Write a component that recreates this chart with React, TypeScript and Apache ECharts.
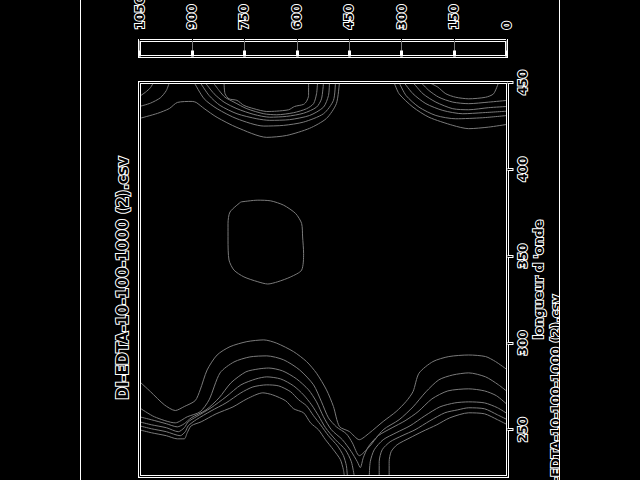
import { useEffect, useRef } from 'react';
import * as echarts from 'echarts';

type Pt = [number, number];

// ---- data (hidden horizontal value, wavelength) ----
const levels = [150, 300, 450, 600, 750, 900];
const wavelengthTicks = [250, 300, 350, 400, 450];
const wavelengthRange = [223, 450];
const hiddenAxisRange = [200, 570];
const colorbarMax = 1050;
const colorbarStep = 150;
const titleText = 'DI-EDTA-10-100-1000 (2).csv';
const axisName = "longueur d 'onde";

const topLeft450: Pt[] = [[570, 442], [564, 444.4], [559, 447], [556, 450]];
const topLeft300: Pt[] = [[570, 436.2], [559, 438.1], [549, 441.2], [543, 445.4], [540, 450]];
const top150: Pt[] = [[570, 429.3], [552, 432.2], [540, 435], [532, 438.5], [517, 439.1], [513, 438.5], [505, 435], [492, 429.9], [472, 424.1], [442, 418.4], [422, 419.5], [399, 423.6], [382, 429.3], [372, 437.9], [369, 450]];
const topMid300: Pt[] = [[515, 450], [505, 440.6], [492, 434.9], [472, 429.1], [445, 424.9], [425, 425.3], [405, 427.2], [385, 432], [375, 439.7], [373, 450]];
const topMid450: Pt[] = [[509, 450], [500, 442.5], [489, 436.8], [472, 432], [452, 429.1], [439, 428.2], [419, 428.6], [399, 431], [385, 435.8], [380, 442.5], [379, 450]];
const topMid600: Pt[] = [[504, 450], [495, 443.5], [485, 438.7], [472, 434.9], [455, 431.6], [439, 430], [422, 430.5], [405, 432.3], [392, 435.8], [387, 440.6], [385, 450]];
const topMid750: Pt[] = [[496, 450], [490, 445.4], [484, 441.5], [475, 438.7], [462, 434.9], [445, 432], [432, 431.4], [415, 432.6], [402, 434.9], [395, 437.8], [392, 443.5], [391, 450]];
const topMid900: Pt[] = [[485, 450], [484, 443.5], [480, 440.6], [472, 439.7], [465, 436.8], [455, 434.9], [442, 433.3], [432, 433.5], [420, 434.3], [414, 436.2], [405, 437.4], [402, 439.2], [400, 442.5], [400, 450]];
const topRight150: Pt[] = [[314, 450], [309, 443.5], [295, 435.8], [279, 430], [255, 425.3], [239, 423.4], [219, 424.3], [200, 425.9]];
const topRight300: Pt[] = [[309, 450], [302, 442.5], [289, 435.8], [272, 431], [252, 429.1], [225, 429.7], [200, 431]];
const topRight450: Pt[] = [[304, 450], [295, 443.5], [282, 437.8], [265, 433.9], [245, 432], [225, 432.6], [200, 433.5]];
const topRight600: Pt[] = [[295, 450], [285, 443.5], [272, 438.7], [255, 434.9], [239, 434.3], [219, 435.5], [200, 436.2]];
const topRight750: Pt[] = [[287, 450], [279, 445.4], [269, 441.5], [255, 438.7], [239, 437.8], [219, 438.7], [200, 439.7]];
const topRight900: Pt[] = [[279, 450], [270, 447.3], [262, 443.5], [252, 441.5], [239, 440.6], [222, 441.5], [214, 443.5], [209, 450]];
const island150: Pt[] = [[468, 381.2], [451, 382.2], [438, 381.8], [425, 379.3], [413, 374.5], [407, 368.8], [406, 361], [405, 351.5], [407, 341.9], [418, 338], [431, 335.2], [441, 333.9], [451, 335.2], [465, 338], [475, 341.9], [480, 347.7], [481, 359.2], [481, 368.8], [479, 375.4], [468, 381.2]];
const bottom150: Pt[] = [[570, 277.7], [559, 271.9], [545, 264.3], [534, 261], [525, 263.3], [514, 266.7], [509, 272.9], [502, 284.4], [492, 293], [479, 297.8], [462, 300.7], [445, 301.7], [432, 299.8], [415, 294.9], [402, 289.2], [392, 282.5], [382, 272.9], [375, 263.3], [369, 251.8], [359, 248.9], [349, 244.2], [339, 248], [325, 254.7], [312, 260.4], [302, 266.2], [295, 271.9], [289, 282.5], [275, 289.2], [259, 292.1], [239, 293], [222, 292.1], [212, 289.2], [200, 284.4]];
const bottom300: Pt[] = [[570, 262.6], [555, 257.4], [534, 253.9], [522, 257.4], [509, 260.3], [500, 267.2], [489, 282.7], [475, 289], [459, 291.9], [442, 292.5], [425, 290.2], [409, 284.4], [395, 275.8], [387, 266], [380, 256.8], [372, 251.6], [362, 247.6], [356, 242.4], [349, 235], [339, 240.1], [325, 249.9], [309, 255.7], [295, 263.1], [282, 271.8], [269, 278.7], [255, 281.5], [239, 282.7], [222, 280.4], [209, 275.8], [200, 271.8]];
const bottom450: Pt[] = [[570, 257.4], [558, 255.7], [543, 253.4], [532, 251.6], [525, 253.4], [518, 256.8], [503, 261.4], [490, 268.3], [478, 277], [463, 283.3], [450, 285], [440, 285.5], [426, 283.8], [412, 279.2], [400, 272.9], [392, 266], [385, 257.4], [377, 249.9], [366, 244.2], [357, 237.3], [351, 231.5], [348, 228.1], [345, 233.8], [340, 240.1], [330, 246.5], [316, 251.1], [303, 255.1], [290, 260.3], [276, 267.7], [260, 272.3], [239, 273.5], [223, 272.3], [211, 269.5], [200, 264.3]];
const bottom600Left: Pt[] = [[570, 254.5], [558, 252.8], [543, 251.1], [531, 248.8], [525, 251.1], [521, 254.5], [513, 257.4], [498, 262.6], [483, 268.9], [468, 275.8], [453, 279.2], [442, 280.4], [428, 279.2], [415, 275.2], [405, 270], [397, 264.3], [390, 258], [383, 251.1], [373, 244.2], [363, 238.4], [357, 231.5], [354, 223]];
const bottom600Right: Pt[] = [[339, 223], [338, 231.5], [334, 238.4], [325, 244.2], [312, 248.2], [298, 252.2], [283, 258], [268, 263.1], [253, 265.4], [239, 266], [223, 265.4], [210, 262.6], [200, 259.1]];
const bottom750Left: Pt[] = [[570, 252.2], [558, 250.5], [543, 248.8], [529, 246.5], [524, 248.8], [521, 252.2], [513, 255.7], [498, 260.8], [483, 265.4], [468, 271.2], [456, 274.6], [442, 275.8], [430, 275.2], [418, 271.8], [410, 267.2], [402, 263.7], [395, 258], [388, 252.8], [380, 246.5], [371, 240.7], [365, 235], [362, 229.2], [361, 223]];
const bottom750Right: Pt[] = [[329, 223], [329, 231.5], [326, 238.4], [318, 243], [306, 246.5], [293, 249.9], [278, 255.1], [263, 259.7], [250, 261.4], [239, 262.6], [223, 262], [210, 258.5], [200, 255.7]];
const bottom900Left: Pt[] = [[570, 249.9], [558, 248.2], [543, 246.5], [532, 244.7], [525, 244.7], [522, 248.2], [518, 252.2], [508, 254.5], [493, 259.1], [476, 263.1], [462, 267.7], [446, 271.2], [436, 270], [423, 266.6], [415, 262], [405, 259.7], [398, 253.9], [390, 249.9], [383, 244.2], [375, 238.4], [368, 232.7], [365, 226.9], [364, 223]];
const bottom900Right: Pt[] = [[319, 223], [319, 231.5], [317, 237.3], [311, 241.3], [298, 245.3], [286, 248.8], [271, 252.8], [258, 256.8], [239, 259.7], [223, 259.1], [210, 255.7], [200, 252.8]];

const contours: { level: number; pts: Pt[] }[] = [
  { level: 150, pts: top150 }, { level: 150, pts: topRight150 }, { level: 150, pts: island150 }, { level: 150, pts: bottom150 },
  { level: 300, pts: topLeft300 }, { level: 300, pts: topMid300 }, { level: 300, pts: topRight300 }, { level: 300, pts: bottom300 },
  { level: 450, pts: topLeft450 }, { level: 450, pts: topMid450 }, { level: 450, pts: topRight450 }, { level: 450, pts: bottom450 },
  { level: 600, pts: topMid600 }, { level: 600, pts: topRight600 }, { level: 600, pts: bottom600Left }, { level: 600, pts: bottom600Right },
  { level: 750, pts: topMid750 }, { level: 750, pts: topRight750 }, { level: 750, pts: bottom750Left }, { level: 750, pts: bottom750Right },
  { level: 900, pts: topMid900 }, { level: 900, pts: topRight900 }, { level: 900, pts: bottom900Left }, { level: 900, pts: bottom900Right },
];

// ---- layout ----
const PLOT = { left: 139.5, top: 82.5, width: 368, height: 394 };
const CBAR = { left: 139.5, top: 40.5, width: 367, height: 16 };
const FONT = 'DejaVu Sans';
const LINE_GREY = '#7a7a7a';

const hollow = (size: number) => ({
  color: '#000',
  textBorderColor: '#fff',
  textBorderWidth: 2,
  fontFamily: FONT,
  fontWeight: 'bold',
  fontSize: size,
});

export default function App() {
  const ref = useRef<HTMLDivElement>(null);
  useEffect(() => {
    if (!ref.current) return;
    const chart = echarts.init(ref.current, undefined, { renderer: 'svg' });
    const frameRect = (r: typeof PLOT, color: string, w: number, z: number) => ({
      type: 'rect',
      z,
      shape: { x: r.left, y: r.top, width: r.width, height: r.height },
      style: { fill: 'none', stroke: color, lineWidth: w },
      silent: true,
    });
    const textEl = (text: string, x: number, y: number, size: number) => ({
      type: 'text', x, y, rotation: Math.PI / 2, z: 4, silent: true,
      style: {
        text, fill: '#000', stroke: '#fff', lineWidth: 2, strokeFirst: true,
        font: `bold ${size}px "${FONT}"`, align: 'center', verticalAlign: 'middle',
        textAlign: 'center', textVerticalAlign: 'middle',
      },
    });
    const option: any = {
      animation: false,
      backgroundColor: '#000',
      grid: [
        { ...PLOT, show: false, containLabel: false, outerBoundsMode: 'none' },
        { ...CBAR, show: false, containLabel: false, outerBoundsMode: 'none' },
      ],
      xAxis: [
        { gridIndex: 0, type: 'value', min: hiddenAxisRange[0], max: hiddenAxisRange[1], inverse: true, show: false },
        {
          gridIndex: 1, type: 'value', min: 0, max: colorbarMax, interval: colorbarStep, inverse: true, position: 'top', z: 5,
          axisLine: { show: false },
          axisTick: { show: true, inside: false, length: 6, lineStyle: { color: '#fff', width: 3 } },
          axisLabel: { show: true, rotate: 90, margin: 11, formatter: (v: number) => String(v), ...hollow(12) },
          splitLine: { show: true, lineStyle: { color: '#7a7a7a', width: 1 } },
        },
        {
          gridIndex: 1, type: 'value', min: 0, max: colorbarMax, interval: colorbarStep, inverse: true, position: 'top', z: 6,
          axisLine: { show: false },
          axisTick: { show: true, inside: false, length: 5, lineStyle: { color: '#000', width: 1 } },
          axisLabel: { show: false },
          splitLine: { show: false },
        },
      ],
      yAxis: [
        {
          gridIndex: 0, type: 'value', min: wavelengthRange[0], max: wavelengthRange[1], position: 'right', z: 5,
          name: axisName, nameLocation: 'middle', nameRotate: 90, nameGap: 24, nameMoveOverlap: false,
          nameTextStyle: hollow(12.5),
          axisLine: { show: false },
          axisTick: { show: true, inside: false, length: 6, customValues: wavelengthTicks, lineStyle: { color: '#fff', width: 3 } },
          axisLabel: { show: true, rotate: 90, margin: 9, customValues: wavelengthTicks, formatter: (v: number) => String(v), ...hollow(12) },
          splitLine: { show: false },
        },
        {
          gridIndex: 0, type: 'value', min: wavelengthRange[0], max: wavelengthRange[1], position: 'right', z: 6,
          axisLine: { show: false },
          axisTick: { show: true, inside: false, length: 5, customValues: wavelengthTicks, lineStyle: { color: '#000', width: 1 } },
          axisLabel: { show: false },
          splitLine: { show: false },
        },
        { gridIndex: 1, type: 'value', min: 0, max: 1, show: false },
      ],
      series: contours.map((c, i) => ({
        type: 'line',
        name: 'level ' + c.level + ' #' + i,
        xAxisIndex: 0,
        yAxisIndex: 0,
        data: c.pts,
        showSymbol: false,
        symbol: 'none',
        smooth: 0.25,
        clip: true,
        silent: true,
        z: 2,
        lineStyle: { color: LINE_GREY, width: 1 },
      })),
      graphic: [
        frameRect(PLOT, '#fff', 3, 3),
        frameRect(PLOT, '#000', 1, 4),
        frameRect(CBAR as any, '#fff', 3, 3),
        frameRect(CBAR as any, '#000', 1, 4),
        textEl(titleText, 123, 278, 15),
        textEl(titleText, 555, 396, 12.5),
        { type: 'rect', z: 7, silent: true, shape: { x: 560, y: 0, width: 80, height: 480 }, style: { fill: '#000' } },
        { type: 'line', z: 8, silent: true, shape: { x1: 80.5, y1: 0, x2: 80.5, y2: 480 }, style: { stroke: '#fff', lineWidth: 1 } },
        { type: 'line', z: 8, silent: true, shape: { x1: 559.5, y1: 0, x2: 559.5, y2: 480 }, style: { stroke: '#fff', lineWidth: 1 } },
      ],
    };
    chart.setOption(option);
    return () => chart.dispose();
  }, []);
  return (
    <div
      ref={ref}
      style={{ position: 'fixed', left: 0, top: 0, width: 640, height: 480, background: '#000' }}
    />
  );
}
